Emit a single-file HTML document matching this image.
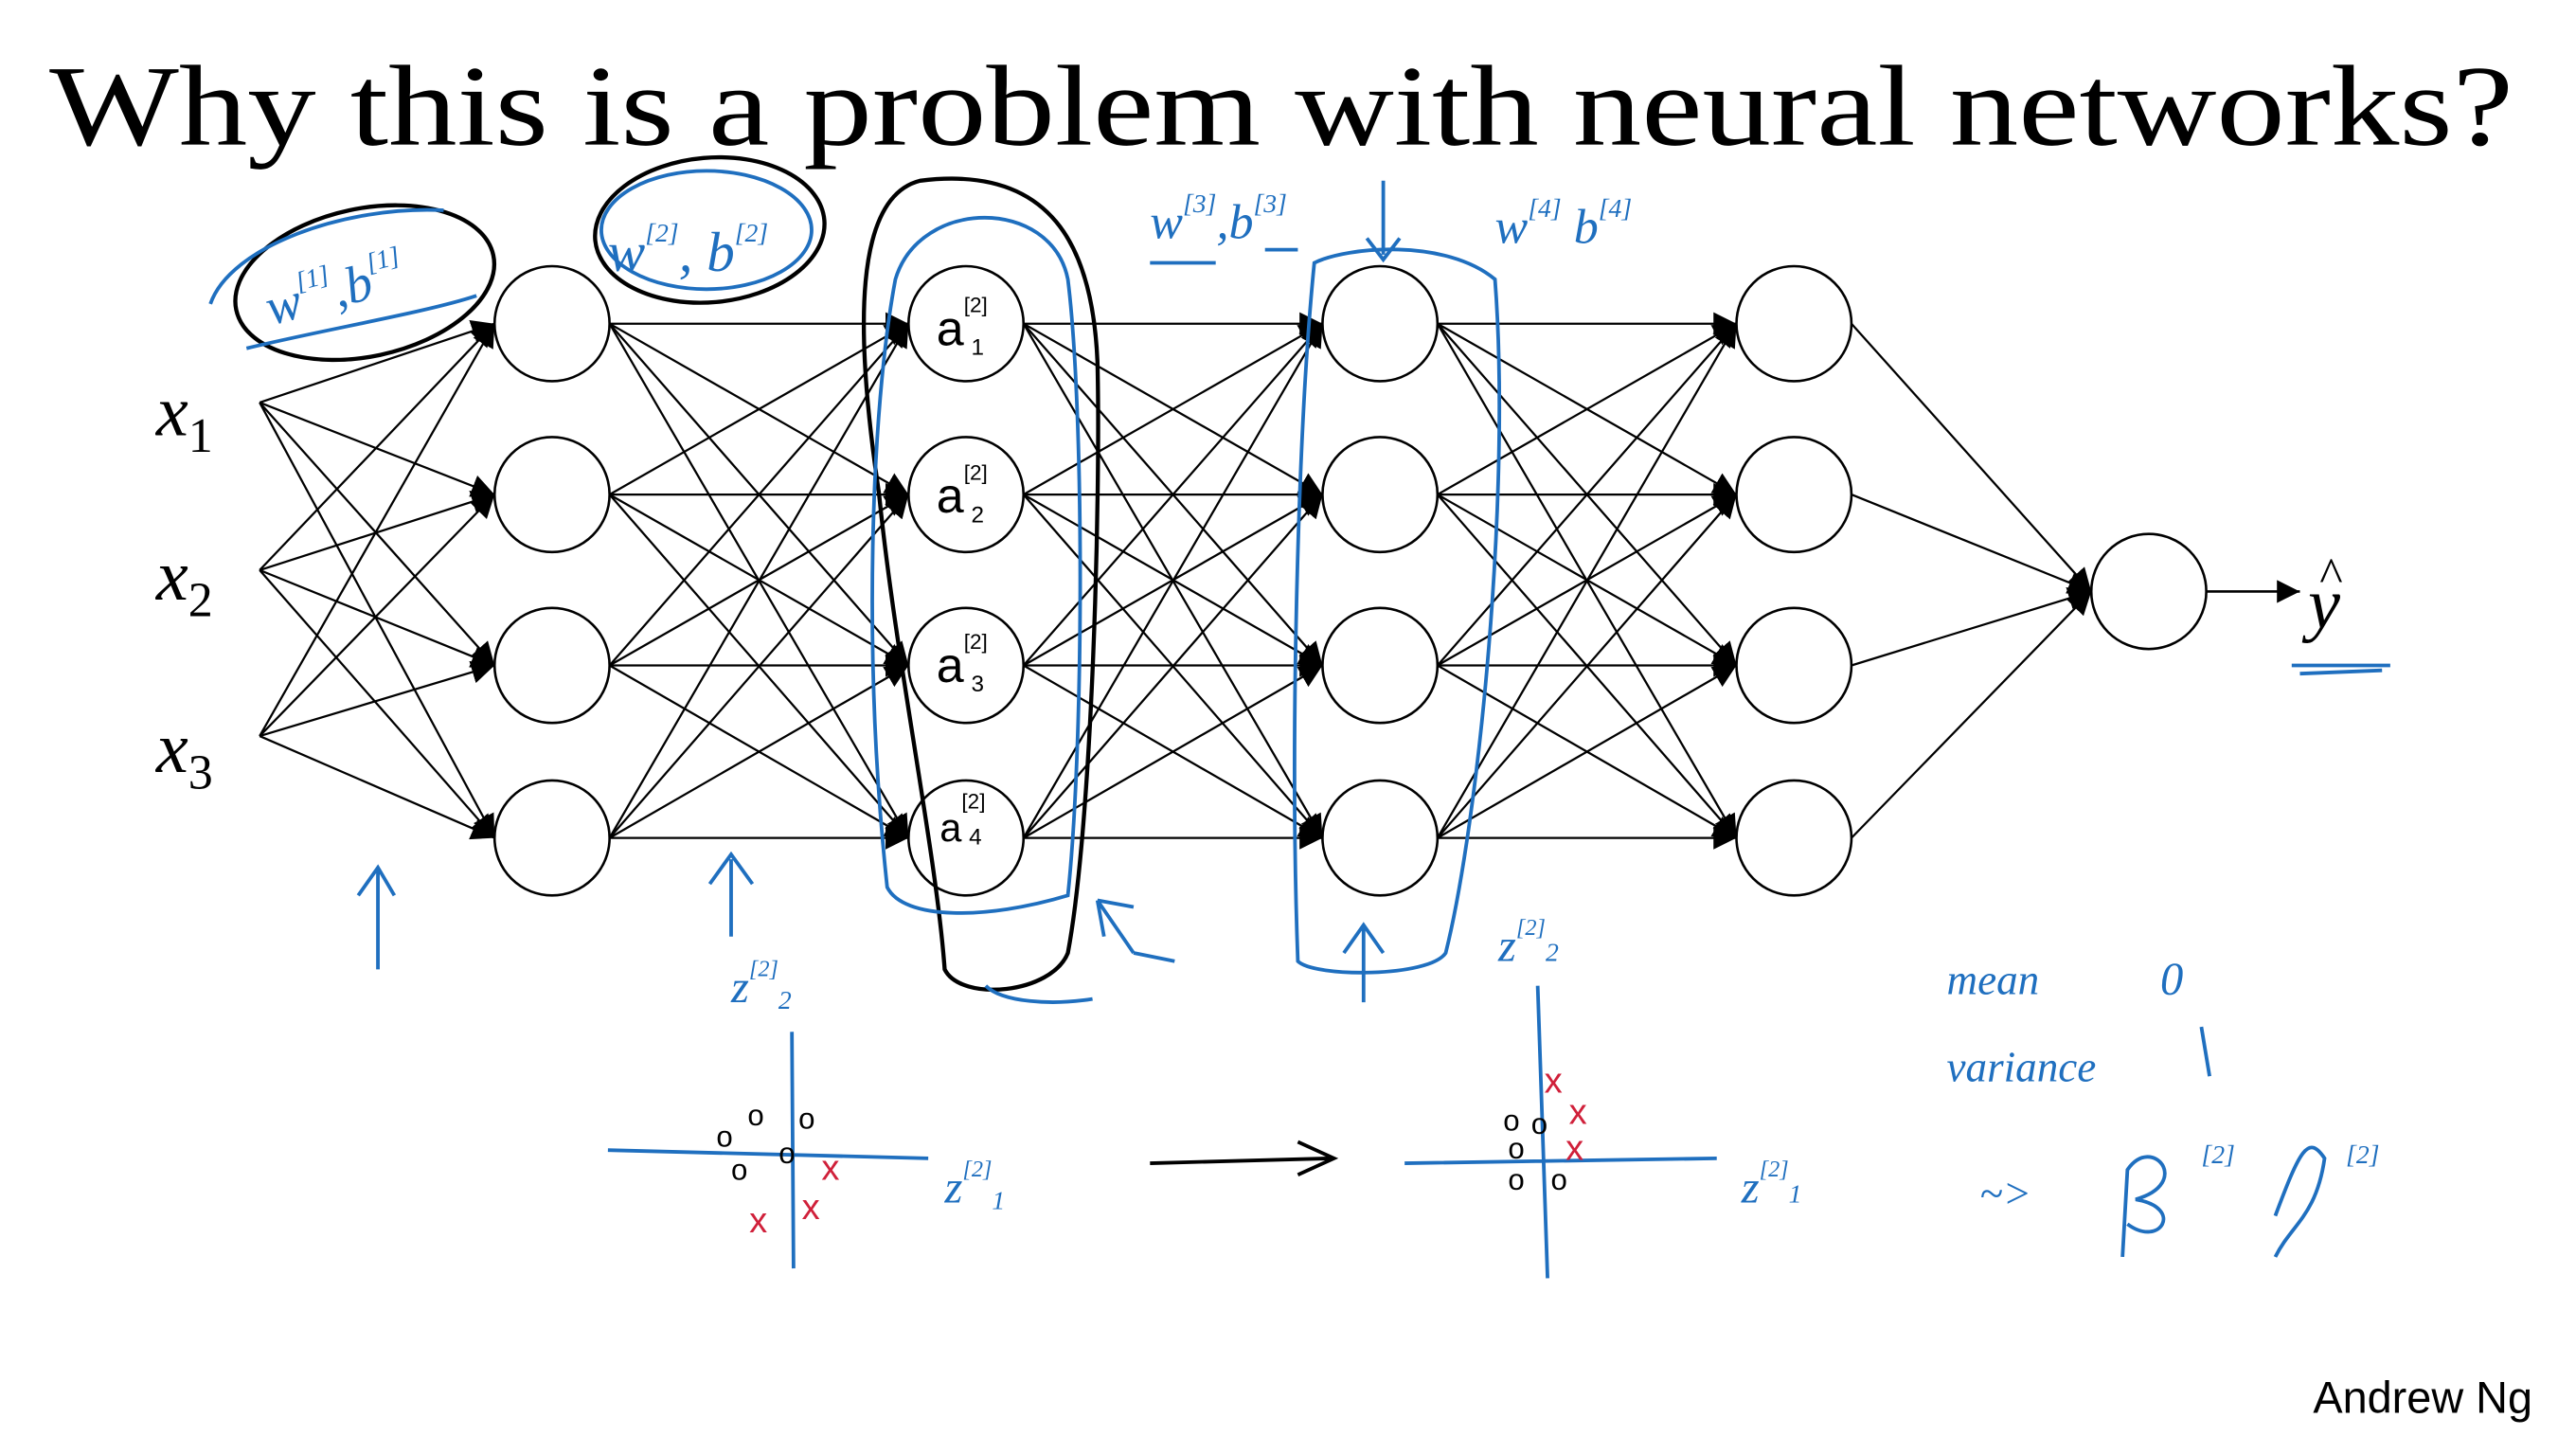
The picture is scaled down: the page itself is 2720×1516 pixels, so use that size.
<!DOCTYPE html>
<html><head><meta charset="utf-8">
<style>
html,body{margin:0;padding:0;background:#fff;}
svg{display:block;}
</style></head>
<body>
<svg width="2720" height="1516" viewBox="0 0 1568 874" xmlns="http://www.w3.org/2000/svg">
<defs>
<marker id="ah" viewBox="0 0 10 10" refX="10" refY="5" markerWidth="14" markerHeight="14" orient="auto" markerUnits="userSpaceOnUse">
<path d="M0,0 L10,5 L0,10 z" fill="#000"/>
</marker>
<marker id="ah2" viewBox="0 0 10 10" refX="10" refY="5" markerWidth="14" markerHeight="14" orient="auto" markerUnits="userSpaceOnUse">
<path d="M0,0 L10,5 L0,10 z" fill="#000"/>
</marker>
</defs>
<rect width="1568" height="874" fill="#fff"/>
<text x="30" y="88" font-family="Liberation Serif, serif" font-size="70" textLength="1500" lengthAdjust="spacingAndGlyphs">Why this is a problem with neural networks?</text>

<g id="edges" stroke="#000" stroke-width="1.3" fill="none"></g>
<g id="nodes" stroke="#000" stroke-width="1.5" fill="#fff"></g>

<g font-family="Liberation Serif, serif" font-style="italic" font-size="44">
<text x="95" y="265">x<tspan font-size="30" dy="10" font-style="normal">1</tspan></text>
<text x="95" y="365">x<tspan font-size="30" dy="10" font-style="normal">2</tspan></text>
<text x="95" y="470">x<tspan font-size="30" dy="10" font-style="normal">3</tspan></text>
<text x="1405" y="382">y</text>
<text x="1412" y="360" font-size="30" font-style="normal">^</text>
</g>
<text x="1408" y="860" font-family="Liberation Sans, sans-serif" font-size="27">Andrew Ng</text>

<g stroke="#000" stroke-width="2.5" fill="none">
<ellipse cx="222" cy="172" rx="80" ry="45" transform="rotate(-12 222 172)"/>
<ellipse cx="432" cy="140" rx="70" ry="44" transform="rotate(-5 432 140)"/>
<path d="M560,110 C520,120 520,200 535,300 C545,400 570,520 575,590 C585,610 640,605 650,580 C665,500 670,300 668,220 C665,150 640,100 560,110 Z"/>
</g>
<g stroke="#1f6fbf" stroke-width="2.2" fill="none">
<path d="M128,185 C140,150 210,125 270,128"/>
<path d="M150,212 C200,200 260,190 290,180"/>
<ellipse cx="430" cy="140" rx="64" ry="36"/>
<path d="M545,170 C530,250 525,400 540,540 C550,560 600,560 650,545 C660,450 660,250 650,170 C640,120 560,120 545,170 Z"/>
<path d="M800,160 C790,260 785,450 790,585 C800,595 870,595 880,580 C900,500 920,300 910,170 C880,145 820,150 800,160 Z"/>
<path d="M230,590 L230,530 M218,545 L230,528 L240,545"/>
<path d="M445,570 L445,523 M432,538 L445,520 L458,538"/>
<path d="M690,580 L668,548 M668,548 L690,552 M668,548 L672,570 M690,580 L715,585"/>
<path d="M830,610 L830,565 M818,580 L830,563 L842,580"/>
<path d="M842,110 L842,155 M832,145 L842,158 L852,145"/>
<path d="M600,600 C610,610 640,612 665,608"/>
<path d="M700,160 L740,160 M770,152 L790,152"/>
<path d="M370,700 L565,705 M482,628 L483,772"/>
<path d="M855,708 L1045,705 M936,600 L942,778"/>
<path d="M1395,405 L1455,405 M1400,410 L1450,408"/>
<path d="M700,708 L810,705 M790,695 L812,705 L790,715" stroke="#000"/>
<path d="M1340,625 L1345,655"/>
<path d="M1292,765 L1295,712 C1310,690 1335,720 1300,730 C1330,735 1315,760 1295,745"/>
<path d="M1385,740 C1400,700 1405,690 1415,705 C1410,740 1395,745 1385,765"/>
</g>
<g fill="#1f6fbf" font-family="Liberation Serif, serif" font-style="italic">
<text x="165" y="198" font-size="32" transform="rotate(-15 165 198)">w<tspan font-size="16" dy="-16">[1]</tspan><tspan dy="16">,b</tspan><tspan font-size="16" dy="-16">[1]</tspan></text>
<text x="370" y="165" font-size="34">w<tspan font-size="16" dy="-18">[2]</tspan><tspan dy="18">, b</tspan><tspan font-size="16" dy="-18">[2]</tspan></text>
<text x="700" y="145" font-size="30">w<tspan font-size="16" dy="-16">[3]</tspan><tspan dy="16">,b</tspan><tspan font-size="16" dy="-16">[3]</tspan></text>
<text x="910" y="148" font-size="30">w<tspan font-size="16" dy="-16">[4]</tspan><tspan dy="16"> b</tspan><tspan font-size="16" dy="-16">[4]</tspan></text>
<text x="445" y="610" font-size="28">z<tspan font-size="14" dy="-16">[2]</tspan><tspan font-size="16" dy="20">2</tspan></text>
<text x="575" y="732" font-size="28">z<tspan font-size="14" dy="-16">[2]</tspan><tspan font-size="16" dy="20">1</tspan></text>
<text x="912" y="585" font-size="28">z<tspan font-size="14" dy="-16">[2]</tspan><tspan font-size="16" dy="16">2</tspan></text>
<text x="1060" y="732" font-size="28">z<tspan font-size="14" dy="-16">[2]</tspan><tspan font-size="16" dy="16">1</tspan></text>
<text x="1185" y="605" font-size="26">mean</text>
<text x="1315" y="605" font-size="28">0</text>
<text x="1185" y="658" font-size="26">variance</text>
<text x="1205" y="735" font-size="26">~&gt;</text>
<text x="1340" y="708" font-size="16">[2]</text>
<text x="1428" y="708" font-size="16">[2]</text>
</g>
<g fill="#000" font-family="Liberation Sans, sans-serif" font-size="30">
<text x="570" y="210">a<tspan font-size="13" dy="-20">[2]</tspan><tspan font-size="14" dy="26" dx="-10">1</tspan></text>
<text x="570" y="312">a<tspan font-size="13" dy="-20">[2]</tspan><tspan font-size="14" dy="26" dx="-10">2</tspan></text>
<text x="570" y="415">a<tspan font-size="13" dy="-20">[2]</tspan><tspan font-size="14" dy="26" dx="-10">3</tspan></text>
<text x="572" y="512" font-size="24">a<tspan font-size="13" dy="-20">[2]</tspan><tspan font-size="14" dy="22" dx="-10">4</tspan></text>
</g>
<g font-family="Liberation Sans, sans-serif" font-size="18">
<g fill="#000"><text x="455" y="685">o</text><text x="486" y="687">o</text><text x="436" y="698">o</text><text x="445" y="718">o</text><text x="474" y="708">o</text>
<text x="915" y="688">o</text><text x="932" y="690">o</text><text x="918" y="705">o</text><text x="918" y="724">o</text><text x="944" y="724">o</text></g>
<g fill="#d0203a" font-size="22"><text x="500" y="718">x</text><text x="488" y="742">x</text><text x="456" y="750">x</text>
<text x="940" y="665">x</text><text x="955" y="684">x</text><text x="953" y="706">x</text></g>
</g>
<line x1="1343" y1="360" x2="1400" y2="360" stroke="#000" stroke-width="1.5" marker-end="url(#ah2)"/>
<script>
var e=document.getElementById('edges'),n=document.getElementById('nodes'),NS='http://www.w3.org/2000/svg';
var ys=[197,301,405,510],lx=[336,588,840,1092],r=35;
function L(x1,y1,x2,y2){var l=document.createElementNS(NS,'line');l.setAttribute('x1',x1);l.setAttribute('y1',y1);l.setAttribute('x2',x2);l.setAttribute('y2',y2);l.setAttribute('marker-end','url(#ah)');e.appendChild(l);}
[245,347,448].forEach(function(y){ys.forEach(function(t){L(158,y,lx[0]-r,t);});});
for(var i=0;i<3;i++)ys.forEach(function(s){ys.forEach(function(t){L(lx[i]+r,s,lx[i+1]-r,t);});});
ys.forEach(function(s){L(lx[3]+r,s,1273,360);});
function C(x,y){var c=document.createElementNS(NS,'circle');c.setAttribute('cx',x);c.setAttribute('cy',y);c.setAttribute('r',r);n.appendChild(c);}
lx.forEach(function(x){ys.forEach(function(y){C(x,y);});});C(1308,360);
</script>
</svg>
</body></html>
